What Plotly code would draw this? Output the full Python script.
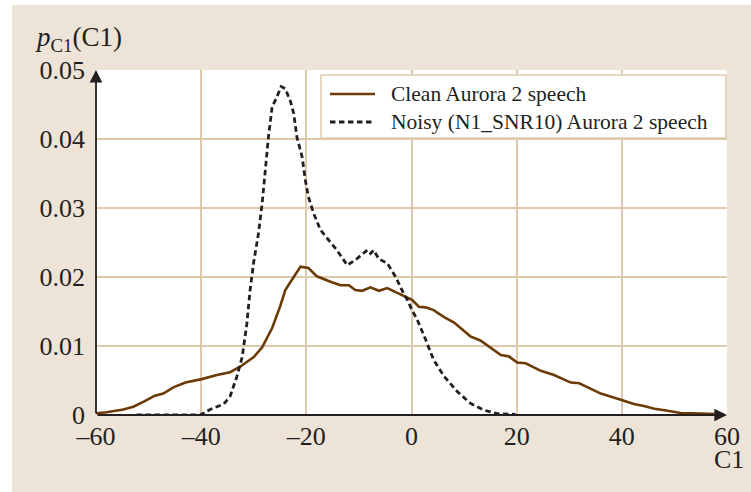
import plotly.graph_objects as go

# ---- data ----
clean_x = [-60, -58, -54.8, -52.9, -51, -48.8, -47.2, -45.3, -43, -39.9, -37, -34.5, -32.6,
           -30, -28.4, -26.5, -25, -24, -22.4, -21.1, -19.6, -18, -15.4, -13.5, -11.9, -10.7,
           -9.4, -7.8, -6.2, -4.6, -3, -1.1, 0.1, 1.4, 2.7, 4.2, 6.2, 8.1, 9.3, 11.2, 13.1,
           17, 18.5, 20.1, 21.7, 24.6, 27.1, 30.3, 31.9, 36, 39.8, 42.3, 44.2, 46.2, 48.1,
           51.2, 55, 59.4]
clean_y = [0.00025, 0.0004, 0.0008, 0.0012, 0.0019, 0.0028, 0.0031, 0.0040, 0.0047, 0.0052,
           0.0058, 0.0062, 0.0070, 0.0084, 0.0098, 0.0126, 0.0157, 0.0181, 0.0200, 0.0215,
           0.0213, 0.0201, 0.0193, 0.0188, 0.0188, 0.0181, 0.0180, 0.0185, 0.0180, 0.0184,
           0.0178, 0.0171, 0.0167, 0.0157, 0.0156, 0.0152, 0.0142, 0.0134, 0.0126, 0.0114,
           0.0108, 0.0087, 0.0085, 0.0076, 0.0075, 0.0064, 0.0058, 0.0047, 0.0046, 0.0031,
           0.0022, 0.0016, 0.0013, 0.0009, 0.0007, 0.0003, 0.0002, 0.0001]

noisy_x = [-52.3, -40.2, -38.3, -35.7, -34.5, -33.2, -32.2, -31.3, -30.7, -30, -29.1, -28.4,
           -27.8, -27.2, -26.5, -25.7, -24.8, -24, -23, -22.4, -21.8, -20.8, -20.2, -19.6,
           -18.6, -17.3, -15.8, -14.2, -12.2, -10.3, -8.4, -7.8, -7.2, -6.2, -4.6, -3, -1.5,
           -0.8, 0.1, 1.1, 2.7, 4.2, 6.2, 8.7, 11.2, 13.8, 16.3, 19.8]
noisy_y = [0, 0, 0.0008, 0.0016, 0.0027, 0.0056, 0.0084, 0.0133, 0.0181, 0.0222, 0.0263,
           0.0307, 0.0355, 0.0403, 0.0447, 0.0459, 0.0476, 0.0473, 0.0454, 0.0437, 0.0403,
           0.0374, 0.0341, 0.0316, 0.0292, 0.0268, 0.0254, 0.0239, 0.0217, 0.0227, 0.0239,
           0.0234, 0.0239, 0.0226, 0.0220, 0.0200, 0.0176, 0.0167, 0.0152, 0.0138, 0.0109,
           0.0080, 0.0056, 0.0034, 0.0017, 0.0007, 0.0002, 0.0001]

series_names = ["Clean Aurora 2 speech", "Noisy (N1_SNR10) Aurora 2 speech"]
x_ticks = [-60, -40, -20, 0, 20, 40, 60]
x_tick_labels = ["\u201360", "\u201340", "\u201320", "0", "20", "40", "60"]
y_ticks = [0, 0.01, 0.02, 0.03, 0.04, 0.05]
y_tick_labels = ["0", "0.01", "0.02", "0.03", "0.04", "0.05"]

# ---- styling ----
FONT = "Liberation Serif, Times New Roman, serif"
BEIGE = "#ede3d7"
GRID = "#dfc9ad"
BROWN = "#6b3a05"
INK = "#231f20"
CLEAN_LINE = dict(color=BROWN, width=2.6)
NOISY_LINE = dict(color=INK, width=2.8, dash="5.5px,3.5px")

fig = go.Figure()
fig.add_trace(go.Scatter(x=clean_x, y=clean_y, mode="lines", name=series_names[0],
                         line=CLEAN_LINE, showlegend=False))
fig.add_trace(go.Scatter(x=noisy_x, y=noisy_y, mode="lines", name=series_names[1],
                         line=NOISY_LINE, showlegend=False))

# legend box geometry (paper coordinates of the plot area)
LX0, LX1, LY0, LY1 = 0.3566, 0.9984, 0.8029, 0.9855
SX0, SX1, TX = 0.3708, 0.4422, 0.4643
ROWS = [0.9304, 0.8493]

shapes = [
    # white page strips at left and top of the picture
    dict(type="rect", xref="paper", yref="paper", x0=-0.16, x1=-0.1331, y0=-0.3,
         y1=1.25, fillcolor="white", line=dict(width=0), layer="below"),
    dict(type="rect", xref="paper", yref="paper", x0=-0.16, x1=1.1, y0=1.1884,
         y1=1.25, fillcolor="white", line=dict(width=0), layer="below"),
    # legend box
    dict(type="rect", xref="paper", yref="paper", x0=LX0, x1=LX1, y0=LY0, y1=LY1,
         fillcolor="white", line=dict(color=GRID, width=1.5), layer="above"),
    dict(type="line", xref="paper", yref="paper", x0=SX0, x1=SX1, y0=ROWS[0], y1=ROWS[0],
         line=CLEAN_LINE, layer="above"),
    dict(type="line", xref="paper", yref="paper", x0=SX0, x1=SX1, y0=ROWS[1], y1=ROWS[1],
         line=NOISY_LINE, layer="above"),
]

annotations = [
    # axes with arrows
    dict(x=60, y=0, ax=-60, ay=0, xref="x", yref="y", axref="x", ayref="y",
         text="", showarrow=True, arrowhead=2, arrowsize=1.4, arrowwidth=1.8,
         arrowcolor=INK),
    dict(x=-60, y=0.05, ax=-60, ay=0, xref="x", yref="y", axref="x", ayref="y",
         text="", showarrow=True, arrowhead=2, arrowsize=1.4, arrowwidth=1.8,
         arrowcolor=INK),
    dict(x=-0.1, y=1.09, xref="paper", yref="paper", xanchor="left", yanchor="middle",
         text="<i>p</i><sub>C1</sub>(C1)", showarrow=False,
         font=dict(family=FONT, size=27, color=INK)),
    dict(x=1.003, y=-0.128, xref="paper", yref="paper", xanchor="center", yanchor="middle",
         text="C1", showarrow=False, font=dict(family=FONT, size=26, color=INK)),
]
for name, ry in zip(series_names, ROWS):
    annotations.append(dict(x=TX, y=ry, xref="paper", yref="paper", xanchor="left",
                            yanchor="middle", text=name, showarrow=False,
                            font=dict(family=FONT, size=21.5, color=INK)))

fig.update_layout(
    width=751, height=492,
    margin=dict(l=96, r=24, t=70, b=77),
    paper_bgcolor=BEIGE, plot_bgcolor="white",
    font=dict(family=FONT, color=INK, size=26),
    showlegend=False,
    xaxis=dict(range=[-60, 60], tickvals=x_ticks, ticktext=x_tick_labels,
               showgrid=True, gridcolor=GRID, gridwidth=1.5, zeroline=False,
               showline=False, ticks="", ticklabelstandoff=3,
               tickfont=dict(family=FONT, size=26, color=INK)),
    yaxis=dict(range=[0, 0.05], tickvals=y_ticks, ticktext=y_tick_labels,
               showgrid=True, gridcolor=GRID, gridwidth=1.5, zeroline=False,
               showline=False, ticks="", ticklabelstandoff=10,
               tickfont=dict(family=FONT, size=26, color=INK)),
    shapes=shapes,
    annotations=annotations,
)

fig.write_html(
    "out.html",
    config={"displayModeBar": False},
    post_script=("document.body.style.margin='0';"
                 "document.body.style.overflow='hidden';"
                 "document.body.style.background='" + BEIGE + "';"),
)
